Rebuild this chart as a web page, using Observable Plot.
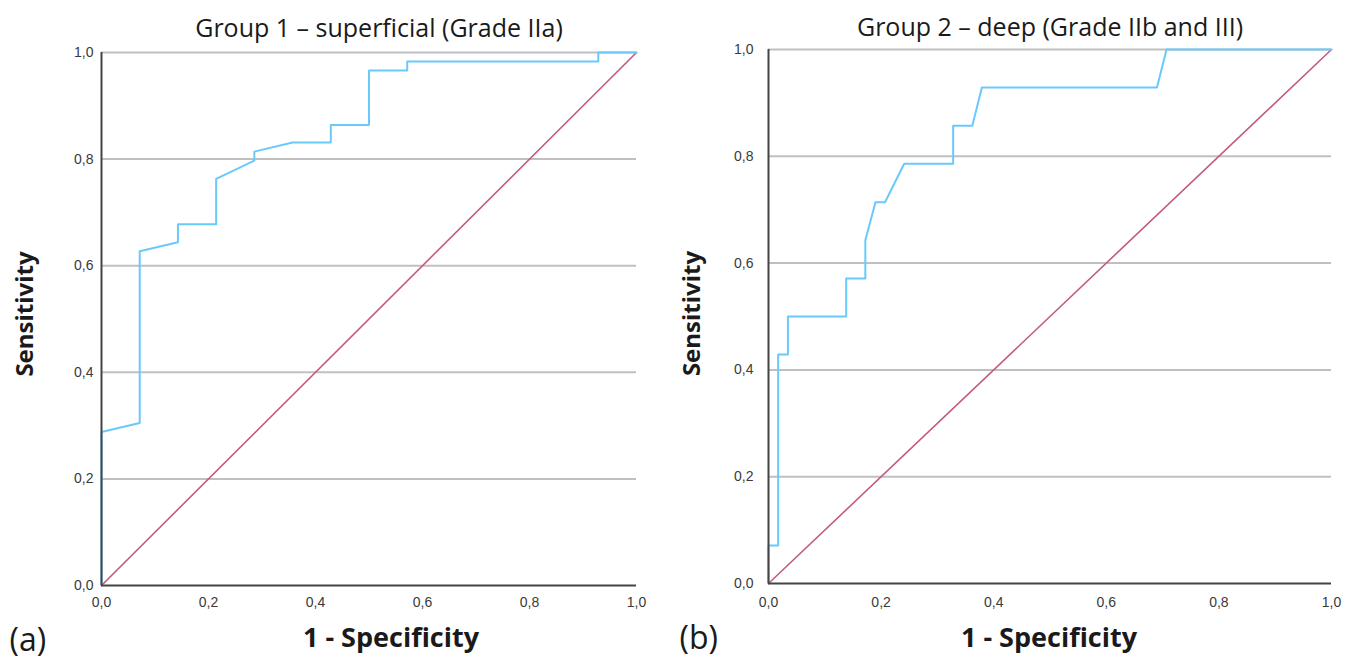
<!DOCTYPE html>
<html>
<head>
<meta charset="utf-8">
<script src="https://cdn.jsdelivr.net/npm/d3@7"></script>
<script src="https://cdn.jsdelivr.net/npm/@observablehq/plot@0.6"></script>
<style>
  html, body { margin: 0; padding: 0; background: #fff; }
  #wrap { position: relative; width: 1354px; height: 663px; overflow: hidden; }
  #wrap > div { position: absolute; top: 0; }
  svg { display: block; }
</style>
</head>
<body>
<div id="wrap"><div id="p1" style="left:0"></div><div id="p2" style="left:677px"></div></div>
<script>
// ---- Data ----
const tickVals = [0, 0.2, 0.4, 0.6, 0.8, 1.0];
const tickLabels = ["0,0", "0,2", "0,4", "0,6", "0,8", "1,0"];
const gridVals = [0.2, 0.4, 0.6, 0.8, 1.0];

const titles = ["Group 1 \u2013 superficial (Grade IIa)", "Group 2 \u2013 deep (Grade IIb and III)"];
const panelTags = ["(a)", "(b)"];
const xTitle = "1 - Specificity";
const yTitle = "Sensitivity";

// Group 1 ROC curve (1 - specificity, sensitivity)
const g1Fpr = [0, 0, 0.0714, 0.0714, 0.1429, 0.1429, 0.2143, 0.2143, 0.2857, 0.2857, 0.3571, 0.4286, 0.4286, 0.5, 0.5, 0.5714, 0.5714, 0.9286, 0.9286, 1];
const g1Tpr = [0, 0.288, 0.305, 0.627, 0.644, 0.678, 0.678, 0.763, 0.797, 0.814, 0.831, 0.831, 0.864, 0.864, 0.966, 0.966, 0.983, 0.983, 1, 1];

// Group 2 ROC curve
const g2Fpr = [0, 0, 0.0172, 0.0172, 0.0345, 0.0345, 0.138, 0.138, 0.172, 0.172, 0.190, 0.207, 0.241, 0.328, 0.328, 0.362, 0.379, 0.690, 0.707, 1];
const g2Tpr = [0, 0.071, 0.071, 0.429, 0.429, 0.5, 0.5, 0.571, 0.571, 0.643, 0.714, 0.714, 0.786, 0.786, 0.857, 0.857, 0.929, 0.929, 1, 1];

// Reference diagonal
const diagX = [0, 1];
const diagY = [0, 1];

const curveColor = "#6ac9fb";
const diagColor = "#c25c7f";

function panel(cfg) {
  const roc = cfg.fpr.map((x, i) => ({x, y: cfg.tpr[i]}));
  const diag = diagX.map((x, i) => ({x, y: diagY[i]}));
  return Plot.plot({
    width: 677,
    height: 663,
    marginLeft: cfg.ml, marginRight: cfg.mr, marginTop: cfg.mt, marginBottom: cfg.mb,
    x: {domain: [0, 1]},
    y: {domain: [0, 1]},
    style: {fontFamily: "'Liberation Sans', Arial, sans-serif", background: "#fff", overflow: "visible"},
    marks: [
      Plot.gridY(gridVals, {stroke: "#c0c0c0", strokeOpacity: 1, strokeWidth: 2}),
      Plot.axisX(tickVals, {tickSize: 0, tickPadding: cfg.xpad, tickFormat: d => tickLabels[tickVals.indexOf(d)], fontSize: 14, fill: "#3a3a3a", label: null}),
      Plot.axisY(tickVals, {tickSize: 0, tickPadding: cfg.ypad, tickFormat: d => tickLabels[tickVals.indexOf(d)], fontSize: 14, fill: "#3a3a3a", label: null}),
      Plot.line(diag, {x: "x", y: "y", stroke: diagColor, strokeWidth: 1.6}),
      Plot.line(roc, {x: "x", y: "y", stroke: curveColor, strokeWidth: 2}),
      Plot.ruleX([0], {stroke: "#444", strokeWidth: 2}),
      Plot.ruleY([0], {stroke: "#444", strokeWidth: 2}),
      Plot.text([cfg.title], {frameAnchor: "top", textAnchor: "middle", lineAnchor: "middle", dx: cfg.tdx, dy: cfg.tdy, fontSize: 25, fill: "#1a1a1a", fontFamily: "'Open Sans', sans-serif"}),
      Plot.text([xTitle], {frameAnchor: "bottom", textAnchor: "middle", lineAnchor: "middle", dx: cfg.xdx, dy: cfg.xdy, fontSize: 27, fontWeight: "bold", fill: "#1a1a1a", fontFamily: "'Open Sans', sans-serif"}),
      Plot.text([yTitle], {frameAnchor: "left", textAnchor: "middle", lineAnchor: "middle", rotate: -90, dx: cfg.ydx, dy: cfg.ydy, fontSize: 24, fontWeight: "bold", fill: "#1a1a1a", fontFamily: "'Open Sans', sans-serif"}),
      Plot.text([cfg.tag], {frameAnchor: "bottom-left", textAnchor: "start", lineAnchor: "middle", dx: cfg.adx, dy: 55, fontSize: 32, fill: "#1a1a1a", fontFamily: "'Open Sans', sans-serif"})
    ]
  });
}

document.getElementById("p1").appendChild(panel({
  fpr: g1Fpr, tpr: g1Tpr, title: titles[0], tag: panelTags[0],
  ml: 101, mr: 41, mt: 52, mb: 78, xpad: 12, ypad: 8,
  tdx: 10, tdy: -24, xdx: 22, xdy: 53, ydx: -76, ydy: -5, adx: -92
}));
document.getElementById("p2").appendChild(panel({
  fpr: g2Fpr, tpr: g2Tpr, title: titles[1], tag: panelTags[1],
  ml: 91, mr: 23, mt: 49, mb: 80, xpad: 14, ypad: 15,
  tdx: 0, tdy: -22, xdx: -1, xdy: 55, ydx: -76, ydy: -3, adx: -89
}));
</script>
</body>
</html>
